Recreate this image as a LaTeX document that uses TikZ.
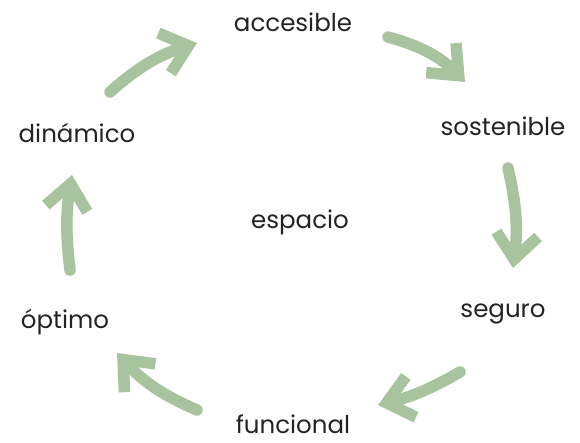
\documentclass[tikz,border=0pt]{standalone}
\usepackage{fontspec}
\setmainfont{Poppins}
\usetikzlibrary{arrows.meta}
\definecolor{leaf}{RGB}{168,196,158}
\definecolor{ink}{RGB}{35,35,35}
\tikzset{
  word/.style={font=\fontsize{24.5}{28}\selectfont, text=ink, inner sep=0pt},
  brush/.style={leaf, line width=11.5pt, line cap=round, line join=round,
    -{Straight Barb[length=25pt, width=42pt]}}
}
\begin{document}
\begin{tikzpicture}[x=1pt, y=-1pt]
    \useasboundingbox (0,0) rectangle (580,442);
    % labels round the circle
    \node[word] (acc) at (293,22) {accesible};
    \node[word] (sos) at (503,126) {sostenible};
    \node[word] (seg) at (503,314) {seguro};
    \node[word] (fun) at (293,424) {funcional};
    \node[word] (opt) at (65,322) {óptimo};
    \node[word] (din) at (77,133) {dinámico};
    \node[word] (esp) at (300,222) {espacio};

    % arrow ends
    \coordinate (a1s) at (110,92);  \coordinate (a1e) at (197,43);
    \coordinate (a2s) at (388,37);  \coordinate (a2e) at (465,82);
    \coordinate (a3s) at (508,168); \coordinate (a3e) at (513,268);
    \coordinate (a4s) at (460,372); \coordinate (a4e) at (378,405);
    \coordinate (a5s) at (197,410); \coordinate (a5e) at (117,353);
    \coordinate (a6s) at (70,270);  \coordinate (a6e) at (72,175);

    \draw[brush] (a1s) to[bend left=12] (a1e);
    \draw[brush] (a2s) to[bend left=15] (a2e);
    \draw[brush] (a3s) to[bend left=10] (a3e);
    \draw[brush] (a4s) to[bend left=8] (a4e);
    \draw[brush] (a5s) to[bend left=12] (a5e);
    \draw[brush] (a6s) to[bend left=8] (a6e);
\end{tikzpicture}
\end{document}
